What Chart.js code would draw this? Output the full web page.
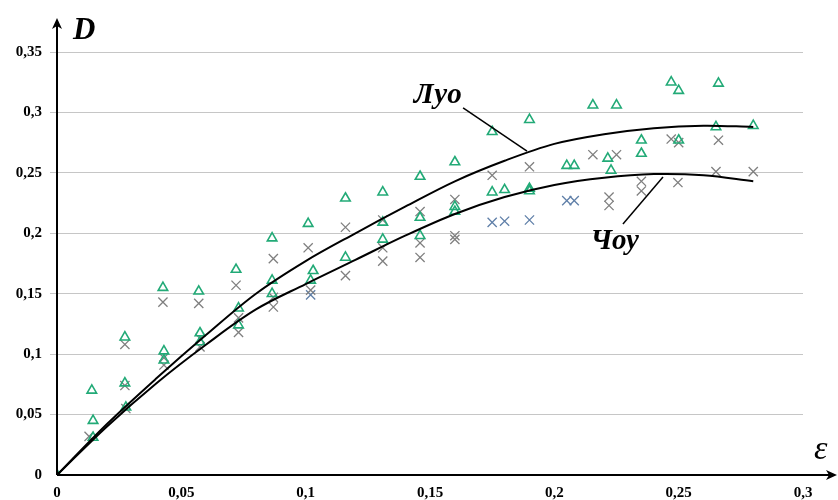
<!DOCTYPE html>
<html>
<head>
<meta charset="utf-8">
<script src="https://cdn.jsdelivr.net/npm/chart.js@4.4.0/dist/chart.umd.min.js"></script>
<style>
  html, body { margin: 0; padding: 0; background: #fff; }
  #wrap { width: 838px; height: 500px; }
</style>
</head>
<body>
<div id="wrap"><canvas id="myChart"></canvas></div>
<script>
// tick values of both axes
const xTicks = [0, 0.05, 0.1, 0.15, 0.2, 0.25, 0.3];
const yTicks = [0, 0.05, 0.1, 0.15, 0.2, 0.25, 0.3, 0.35];

// fitted curves
const curveEps = [0, 0.02, 0.04, 0.06, 0.08, 0.10, 0.12, 0.14, 0.16, 0.18, 0.20, 0.22, 0.24, 0.26, 0.28];
const luoCurve = [0, 0.042, 0.080, 0.116, 0.150, 0.177, 0.200, 0.222, 0.243, 0.260, 0.274, 0.282, 0.287, 0.289, 0.288];
const chouCurve = [0, 0.040, 0.076, 0.108, 0.137, 0.158, 0.178, 0.198, 0.216, 0.230, 0.240, 0.246, 0.249, 0.248, 0.243];

// green triangles
const triEps = [0, 0.014, 0.0145, 0.0145, 0.0273, 0.0273, 0.0277, 0.0426, 0.043, 0.043, 0.057, 0.0575, 0.0575,
  0.072, 0.073, 0.073, 0.0865, 0.0865, 0.0865, 0.101, 0.103, 0.102, 0.116, 0.116, 0.131, 0.131, 0.131,
  0.146, 0.146, 0.146, 0.160, 0.160, 0.160, 0.175, 0.175, 0.180, 0.190, 0.190, 0.190, 0.205, 0.208,
  0.2155, 0.225, 0.2215, 0.2228, 0.235, 0.235, 0.247, 0.250, 0.250, 0.266, 0.265, 0.280];
const triD = [0, 0.070, 0.045, 0.031, 0.114, 0.076, 0.056, 0.155, 0.1025, 0.095, 0.152, 0.1175, 0.110,
  0.170, 0.138, 0.124, 0.196, 0.161, 0.150, 0.208, 0.169, 0.161, 0.229, 0.180, 0.234, 0.209, 0.195,
  0.247, 0.213, 0.198, 0.259, 0.222, 0.218, 0.284, 0.234, 0.236, 0.294, 0.237, 0.235, 0.256, 0.256,
  0.306, 0.306, 0.262, 0.252, 0.277, 0.266, 0.325, 0.318, 0.277, 0.324, 0.288, 0.289];

// grey crosses
const crossEps = [0, 0.0129, 0.0273, 0.0273, 0.0277, 0.0426, 0.043, 0.043, 0.057, 0.0575, 0.0575,
  0.072, 0.073, 0.073, 0.087, 0.087, 0.087, 0.101, 0.102, 0.116, 0.116, 0.131, 0.131, 0.131,
  0.146, 0.146, 0.146, 0.160, 0.160, 0.160, 0.175, 0.190, 0.2155, 0.225, 0.222, 0.222,
  0.235, 0.235, 0.247, 0.250, 0.2497, 0.266, 0.265, 0.280];
const crossD = [0, 0.032, 0.074, 0.108, 0.055, 0.143, 0.097, 0.091, 0.142, 0.113, 0.106,
  0.157, 0.130, 0.118, 0.179, 0.147, 0.139, 0.188, 0.153, 0.205, 0.165, 0.211, 0.188, 0.177,
  0.218, 0.192, 0.180, 0.228, 0.198, 0.195, 0.248, 0.255, 0.265, 0.265, 0.230, 0.223,
  0.243, 0.235, 0.278, 0.275, 0.242, 0.277, 0.251, 0.251];

// bluish crosses
const blueEps = [0.102, 0.175, 0.180, 0.190, 0.205, 0.208];
const blueD = [0.149, 0.209, 0.210, 0.211, 0.227, 0.227];

// zip two arrays into {x, y} points
function toPoints (xs, ys) { return xs.map((x, i) => ({ x: x, y: ys[i] })); }

// format tick like 0,05
function fmt (v) { return String(Math.round(v * 100) / 100).replace('.', ','); }

const serif = "'Liberation Serif', 'Times New Roman', serif";

// axes with arrows, axis titles and curve labels
const decorPlugin = {
  id: 'decor',
  afterDraw (chart) {
    const ctx = chart.ctx;
    const xs = chart.scales.x, ys = chart.scales.y;
    const x0 = xs.getPixelForValue(0), y0 = ys.getPixelForValue(0);
    const px = (v) => xs.getPixelForValue(v), py = (v) => ys.getPixelForValue(v);
    ctx.save();
    ctx.strokeStyle = '#000'; ctx.fillStyle = '#000'; ctx.lineWidth = 2;
    // x axis
    ctx.beginPath(); ctx.moveTo(x0, y0); ctx.lineTo(834, y0); ctx.stroke();
    ctx.beginPath(); ctx.moveTo(837, y0); ctx.lineTo(826, y0 - 5); ctx.lineTo(829, y0); ctx.lineTo(826, y0 + 5); ctx.closePath(); ctx.fill();
    // y axis
    ctx.beginPath(); ctx.moveTo(x0, y0); ctx.lineTo(x0, 22); ctx.stroke();
    ctx.beginPath(); ctx.moveTo(x0, 18); ctx.lineTo(x0 - 5, 29); ctx.lineTo(x0, 26); ctx.lineTo(x0 + 5, 29); ctx.closePath(); ctx.fill();
    // axis titles
    ctx.font = 'italic bold 31px ' + serif;
    ctx.textAlign = 'left'; ctx.textBaseline = 'alphabetic';
    ctx.fillText('D', 73, 39);
    ctx.font = 'italic 34px ' + serif;
    ctx.fillText('\u03B5', 814, 459);
    // curve labels with leader lines
    ctx.lineWidth = 1.5;
    ctx.beginPath(); ctx.moveTo(px(0.1633), py(0.3037)); ctx.lineTo(px(0.189), py(0.268)); ctx.stroke();
    ctx.beginPath(); ctx.moveTo(px(0.2437), py(0.2466)); ctx.lineTo(px(0.2276), py(0.2077)); ctx.stroke();
    ctx.font = 'italic bold 29px ' + serif;
    ctx.fillText('Луо', px(0.1435), py(0.3075));
    ctx.fillText('Чоу', px(0.2145), py(0.187));
    ctx.restore();
  }
};

const myChart = new Chart('myChart', {
  type: 'scatter',
  data: {
    datasets: [
      { label: 'Луо', data: toPoints(curveEps, luoCurve), showLine: true, borderColor: '#000', borderWidth: 2,
        pointRadius: 0, tension: 0.35, order: 0 },
      { label: 'Чоу', data: toPoints(curveEps, chouCurve), showLine: true, borderColor: '#000', borderWidth: 2,
        pointRadius: 0, tension: 0.35, order: 0 },
      { label: 'crosses', data: toPoints(crossEps, crossD), pointStyle: 'crossRot', pointRadius: 6.5,
        borderColor: '#7f7f7f', backgroundColor: '#7f7f7f', pointBorderWidth: 1.3, order: 2 },
      { label: 'blue crosses', data: toPoints(blueEps, blueD), pointStyle: 'crossRot', pointRadius: 6.5,
        borderColor: '#5f7fa8', backgroundColor: '#5f7fa8', pointBorderWidth: 1.3, order: 2 },
      { label: 'triangles', data: toPoints(triEps, triD), pointStyle: 'triangle', pointRadius: 5.5,
        borderColor: '#22aa77', backgroundColor: 'rgba(0,0,0,0)', pointBorderWidth: 1.6, order: 1 }
    ]
  },
  options: {
    responsive: true,
    maintainAspectRatio: false,
    animation: false,
    layout: { padding: { top: 52, right: 35, left: 0, bottom: 0 } },
    plugins: { legend: { display: false }, tooltip: { enabled: false } },
    scales: {
      x: {
        type: 'linear', min: 0, max: 0.3,
        afterBuildTicks: (s) => { s.ticks = xTicks.map(v => ({ value: v })); },
        afterFit: (s) => { s.height = 25; },
        grid: { display: false },
        border: { display: false },
        ticks: { padding: 1, color: '#000', font: { family: serif, size: 15, weight: 'bold' }, callback: fmt }
      },
      y: {
        type: 'linear', min: 0, max: 0.35,
        afterBuildTicks: (s) => { s.ticks = yTicks.map(v => ({ value: v })); },
        afterFit: (s) => { s.width = 57; },
        grid: { color: (c) => c.tick && c.tick.value === 0 ? 'rgba(0,0,0,0)' : '#c6c6c6', lineWidth: 1, tickLength: 7 },
        border: { display: false },
        ticks: { padding: 8, color: '#000', font: { family: serif, size: 15, weight: 'bold' }, callback: fmt }
      }
    }
  },
  plugins: [decorPlugin]
});
</script>
</body>
</html>
